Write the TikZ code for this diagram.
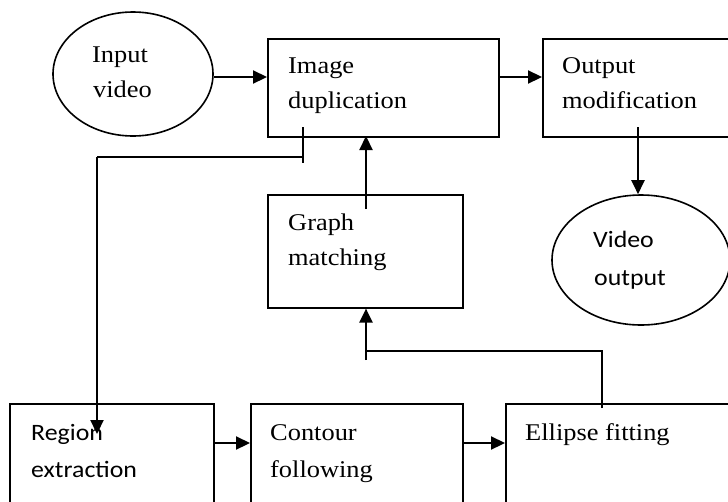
\documentclass[tikz,border=0pt]{standalone}
\usepackage{fontspec}
\setmainfont{Liberation Serif}[FakeStretch=1.1]
\newfontfamily\labelsans{Carlito}[FakeStretch=1.1]
\usetikzlibrary{arrows.meta,shapes.geometric}
\tikzset{
  box/.style={draw, line width=1.6pt, rectangle, inner sep=0pt, anchor=north west},
  oval/.style={draw, line width=1.6pt, ellipse, inner sep=0pt},
  lbl/.style={anchor=base west, inner sep=0pt, font=\fontsize{24}{35}\selectfont},
  slbl/.style={anchor=base west, inner sep=0pt, font=\labelsans\fontsize{23.5}{37}\selectfont},
  arr/.style={line width=2.2pt, -{Triangle[length=14pt,width=13pt]}},
  wire/.style={line width=1.5pt}
}
\begin{document}
\begin{tikzpicture}[x=1pt,y=-1pt]
\useasboundingbox (0,0) rectangle (728,501);
\clip (0,0) rectangle (728,501);

% process boxes
\node[box, minimum width=231pt, minimum height=98pt]  (dup)     at (267,38)  {};
\node[box, minimum width=260pt, minimum height=98pt]  (outm)    at (542,38)  {};
\node[box, minimum width=195pt, minimum height=113pt] (graph)   at (267,194) {};
\node[box, minimum width=204pt, minimum height=130pt] (region)  at (9,403)   {};
\node[box, minimum width=212pt, minimum height=130pt] (contour) at (250,403) {};
\node[box, minimum width=260pt, minimum height=130pt] (fitting) at (505,403) {};

% input / output ovals
\node[oval, minimum width=160pt, minimum height=124pt] (inv)  at (133,74)  {};
\node[oval, minimum width=178pt, minimum height=130pt] (vout) at (641,260) {};

% labels
\node[lbl]  (tinv1) at (92,62)   {Input};
\node[lbl]  (tinv2) at (93,97)   {video};
\node[lbl]  (tdup1) at (288,73)  {Image};
\node[lbl]  (tdup2) at (288,108) {duplication};
\node[lbl]  (tout1) at (562,73)  {Output};
\node[lbl]  (tout2) at (562,108) {modification};
\node[lbl]  (tgr1)  at (288,230) {Graph};
\node[lbl]  (tgr2)  at (288,265) {matching};
\node[slbl] (tvo1)  at (593,247) {Video};
\node[slbl] (tvo2)  at (594,285) {output};
\node[slbl] (treg1) at (31,440)  {Region};
\node[slbl] (treg2) at (31,477)  {extraction};
\node[lbl]  (tcon1) at (270,440) {Contour};
\node[lbl]  (tcon2) at (270,477) {following};
\node[lbl]  (tfit)  at (525,440) {Ellipse fitting};

% junction points of the feedback wires
\coordinate (ja)   at (303,157);
\coordinate (jatop) at (303,127);
\coordinate (jabot) at (303,163);
\coordinate (jb)   at (97,157);
\coordinate (rtip) at (97,434);
\coordinate (jc)   at (366,351);
\coordinate (jcbot) at (366,360);
\coordinate (fitup) at (602,408);
\coordinate (grup) at (366,209);
\coordinate (grtop) at (366,136);
\coordinate (omout) at (638,127);

% main flow
\draw[arr] ([yshift=-3pt]inv.east) -- ([yshift=-3pt]inv.east -| dup.west);
\draw[arr] ([yshift=-39pt]dup.north east) -- ([yshift=-39pt]outm.north west);
\draw[arr] (omout) -- (omout |- vout.north);
\draw[arr] (grup) -- (grtop);

% image duplication down to region extraction
\draw[wire] (jatop) -- (jabot);
\draw[wire] (ja) -- (jb);
\draw[arr] (jb) -- (rtip);

% bottom row
\draw[arr] ([yshift=-40pt]region.north east) -- ([yshift=-40pt]contour.north west);
\draw[arr] ([yshift=-40pt]contour.north east) -- ([yshift=-40pt]fitting.north west);

% ellipse fitting back up to graph matching
\draw[wire] (fitup) |- (jc);
\draw[arr] (jcbot) -- (jcbot |- graph.south);
\end{tikzpicture}
\end{document}
